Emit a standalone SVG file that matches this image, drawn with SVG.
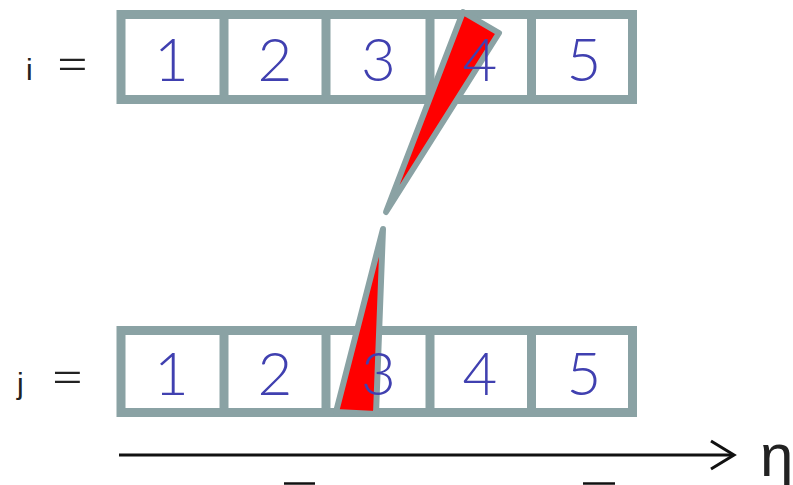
<svg xmlns="http://www.w3.org/2000/svg" width="793" height="485" viewBox="0 0 793 485">
<style>
.box{fill:#fff;stroke:#8aa2a4;stroke-width:9}
.div{stroke:#8aa2a4;stroke-width:9}
.tri{fill:#ff0000;stroke:#8aa2a4;stroke-width:6;stroke-linejoin:round;stroke-linecap:round}
.num{font-family:Lato,"Open Sans","Liberation Sans",sans-serif;font-weight:300;font-size:60px;fill:#4040b0;text-anchor:middle}
.lbl{font-family:"Liberation Sans",Arial,sans-serif;font-size:30px;fill:#222}
.eq{font-family:Lato,"Liberation Sans",sans-serif;font-weight:300;font-size:60px;fill:#222}
.ax{stroke:#111;stroke-width:3;fill:none}
</style>
<rect width="793" height="485" fill="#fff"/>
<g id="row-i">
<rect class="box" x="121" y="14.5" width="511.5" height="85"/>
<line class="div" x1="224" y1="14" x2="224" y2="100"/>
<line class="div" x1="326" y1="14" x2="326" y2="100"/>
<line class="div" x1="430" y1="14" x2="430" y2="100"/>
<line class="div" x1="531.5" y1="14" x2="531.5" y2="100"/>
</g>
<g id="row-j">
<rect class="box" x="121" y="330.5" width="511.5" height="82"/>
<line class="div" x1="224" y1="330" x2="224" y2="413"/>
<line class="div" x1="326" y1="330" x2="326" y2="413"/>
<line class="div" x1="430" y1="330" x2="430" y2="413"/>
<line class="div" x1="531.5" y1="330" x2="531.5" y2="413"/>
</g>
<g id="connectors">
<polygon class="tri" points="463,12 499,33 386,212"/>
<polygon class="tri" points="383,229 336,412 376,414"/>
<line class="ax" x1="119" y1="455" x2="733" y2="455"/>
<polyline class="ax" points="711,441 734,455 711,469"/>
</g>
<g id="labels-i">
<text class="lbl" x="26" y="80">i</text>
<text class="eq" x="55" y="84">=</text>
<text class="num" x="171.5" y="81">1</text>
<text class="num" x="275" y="81">2</text>
<text class="num" x="378.5" y="81">3</text>
<text class="num" x="480" y="81">4</text>
<text class="num" x="584" y="81">5</text>
</g>
<g id="labels-j">
<text class="lbl" x="17" y="394">j</text>
<text class="eq" x="50" y="397">=</text>
<text class="num" x="171.5" y="395">1</text>
<text class="num" x="275" y="395">2</text>
<text class="num" x="378.5" y="395">3</text>
<text class="num" x="480" y="395">4</text>
<text class="num" x="584" y="395">5</text>
</g>
<g id="axis-label">
<text class="lbl" x="760" y="476" style="font-size:60px">η</text>
<line x1="284" y1="483.5" x2="315" y2="483.5" stroke="#111" stroke-width="2.5"/>
<line x1="583" y1="483.5" x2="615" y2="483.5" stroke="#111" stroke-width="2.5"/>
</g>
</svg>
